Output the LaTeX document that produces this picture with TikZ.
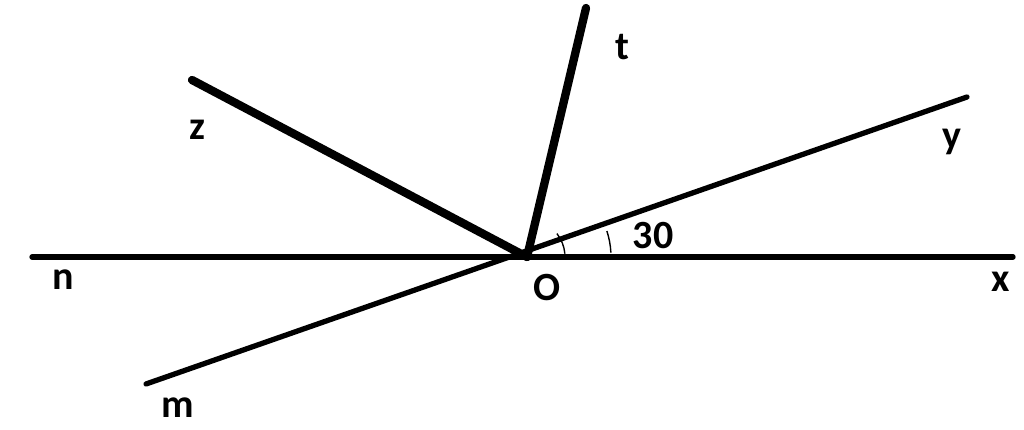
\documentclass[tikz,border=0pt]{standalone}
\usepackage{fontspec}
\setmainfont{Carlito}
\usetikzlibrary{calc}
\begin{document}
\begin{tikzpicture}[x=1pt,y=1pt,
  lbl/.style={font=\fontsize{40}{44}\selectfont\bfseries, inner sep=0pt},
  thin ray/.style={line width=5.3pt, line cap=round},
  thick ray/.style={line width=8.3pt, line cap=round},
  anglemark/.style={line width=1.4pt}]
\useasboundingbox (0,0) rectangle (1024,430);
\coordinate (O) at (527,173);
\coordinate (N) at (32,173);
\coordinate (X) at (1013,173);
\coordinate (Y) at (967,333);
\coordinate (M) at (146,46);
\coordinate (Z) at (192,350);
\coordinate (T) at (586,422);
\draw[thin ray] (N) -- (X);
\draw[thin ray] (M) -- (Y);
\draw[thick ray] (O) -- (Z);
\draw[thick ray] (O) -- (T);
\draw[anglemark] ($(O)+(5:38)$) arc[start angle=5, end angle=38, radius=38];
\draw[anglemark] ($(O)+(3:84)$) arc[start angle=3, end angle=18, radius=84];
\node[lbl] (lt) at (622,383) {t};
\node[lbl] (lz) at (197,300) {z};
\node[lbl] (ly) at (952,288) {y};
\node[lbl] (ln) at (63,150) {n};
\node[lbl] (lO) at (547,142) {O};
\node[lbl] (lx) at (1001,148) {x};
\node[lbl] (lm) at (178,22) {m};
\node[lbl] (l30) at (653,194) {30};
\end{tikzpicture}
\end{document}
